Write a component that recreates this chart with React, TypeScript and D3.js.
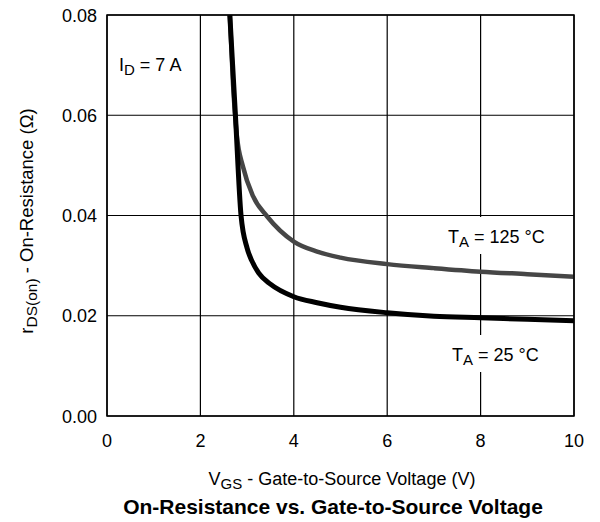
import * as d3 from 'd3';

// V_GS (V) vs r_DS(on) (ohm)
const vgs25 = [2.63, 2.75, 2.87, 3.0, 3.1, 3.25, 3.5, 4.0, 4.5, 5.0, 6.0, 7.0, 8.0, 9.0, 10.0];
const rds25 = [0.08, 0.06, 0.04, 0.0335, 0.031, 0.0285, 0.0263, 0.0238, 0.0226, 0.0217, 0.0206, 0.0199, 0.0196, 0.0193, 0.019];

const vgs125 = [2.63, 2.7, 2.78, 2.91, 3.13, 3.43, 4.0, 4.5, 5.0, 6.0, 7.0, 8.0, 9.0, 10.0];
const rds125 = [0.08, 0.066, 0.056, 0.0498, 0.0438, 0.0398, 0.0348, 0.0328, 0.0316, 0.0303, 0.0295, 0.0288, 0.0283, 0.0278];

const xTicks = [0, 2, 4, 6, 8, 10];
const yTicks = [0, 0.02, 0.04, 0.06, 0.08];

const FONT = 'Arial, "Liberation Sans", Helvetica, sans-serif';
const FS = 18;
const SUB = 15;

export default function App() {
	const W = 600;
	const H = 522;
	const plot = { left: 107, right: 574, top: 15, bottom: 416 };

	const x = d3.scaleLinear().domain([0, 10]).range([plot.left, plot.right]);
	const y = d3.scaleLinear().domain([0, 0.08]).range([plot.bottom, plot.top]);

	const line = d3
		.line<[number, number]>()
		.x((d) => x(d[0]))
		.y((d) => y(d[1]))
		.curve(d3.curveMonotoneX);

	const path25 = line(vgs25.map((v, i) => [v, rds25[i]]));
	const path125 = line(vgs125.map((v, i) => [v, rds125[i]]));

	return (
		<svg
			width={W}
			height={H}
			style={{ position: 'absolute', left: 0, top: 0, fontFamily: FONT, background: '#fff' }}
		>
			<defs>
				<clipPath id="plot-clip">
					<rect x={plot.left} y={plot.top} width={plot.right - plot.left} height={plot.bottom - plot.top} />
				</clipPath>
			</defs>

			{/* grid */}
			{xTicks.map((t) => (
				<line key={'gx' + t} x1={x(t)} x2={x(t)} y1={plot.top} y2={plot.bottom} stroke="#000" strokeWidth={1.2} />
			))}
			{yTicks.map((t) => (
				<line key={'gy' + t} x1={plot.left} x2={plot.right} y1={y(t)} y2={y(t)} stroke="#000" strokeWidth={1.2} />
			))}

			{/* white patches behind the curve labels */}
			<rect x={445} y={217} width={105} height={37} fill="#fff" />
			<rect x={448} y={335} width={98} height={37} fill="#fff" />

			{/* curves */}
			<g clipPath="url(#plot-clip)" fill="none" strokeLinecap="butt">
				<path d={path125 ?? ''} stroke="#464646" strokeWidth={4.5} />
				<path d={path25 ?? ''} stroke="#000" strokeWidth={5} />
			</g>

			<rect
				x={plot.left}
				y={plot.top}
				width={plot.right - plot.left}
				height={plot.bottom - plot.top}
				fill="none"
				stroke="#000"
				strokeWidth={1.5}
			/>

			{/* annotations */}
			<text x={119} y={71} fontSize={FS}>
				I<tspan fontSize={SUB} dy={4}>D</tspan>
				<tspan dy={-4}> = 7 A</tspan>
			</text>

			<text x={448} y={243} fontSize={FS}>
				T<tspan fontSize={SUB} dy={4}>A</tspan>
				<tspan dy={-4}> = 125 °C</tspan>
			</text>

			<text x={452} y={361} fontSize={FS}>
				T<tspan fontSize={SUB} dy={4}>A</tspan>
				<tspan dy={-4}> = 25 °C</tspan>
			</text>

			{/* y tick labels */}
			{yTicks.map((t) => (
				<text key={'yl' + t} x={97} y={y(t) + 6.5} fontSize={FS} textAnchor="end">
					{t.toFixed(2)}
				</text>
			))}

			{/* x tick labels */}
			{xTicks.map((t) => (
				<text key={'xl' + t} x={x(t)} y={447} fontSize={FS} textAnchor="middle">
					{t}
				</text>
			))}

			{/* axis titles */}
			<text x={342} y={485} fontSize={FS} textAnchor="middle">
				V<tspan fontSize={SUB} dy={4}>GS</tspan>
				<tspan dy={-4}> - Gate-to-Source Voltage (V)</tspan>
			</text>

			<text transform="translate(33,221) rotate(-90)" fontSize={18.5} textAnchor="middle">
				r<tspan fontSize={15.5} dy={4}>DS(on)</tspan>
				<tspan dy={-4}> - On-Resistance (Ω)</tspan>
			</text>

			<text x={333} y={514} fontSize={21} fontWeight="bold" textAnchor="middle">
				On-Resistance vs. Gate-to-Source Voltage
			</text>
		</svg>
	);
}
